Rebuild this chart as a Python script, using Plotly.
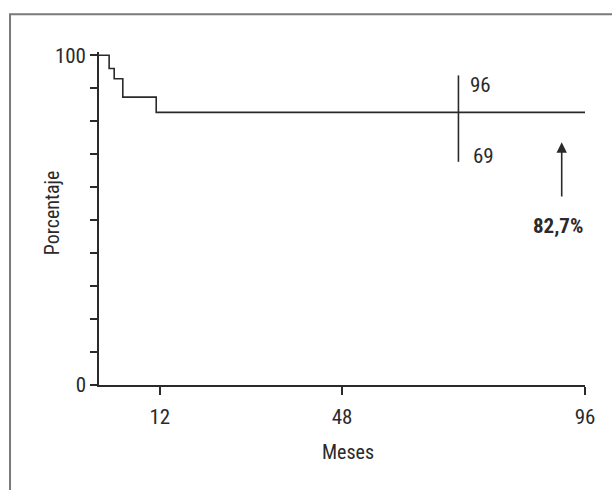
import plotly.graph_objects as go

# Data
months = [0, 2.0, 3.0, 4.7, 11.3, 96]
survival = [100, 96.0, 92.9, 87.3, 82.7, 82.7]
mark_month = 71
mark_range = [67.7, 93.9]
risk_top = "96"
risk_bottom = "69"
final_label = "82,7%"
x_ticks = [12, 48, 96]
y_ticks = list(range(0, 101, 10))
y_ticktext = ["0"] + [""] * 9 + ["100"]

FONT = "Liberation Sans Narrow, Arial Narrow, Roboto Condensed, Liberation Sans, sans-serif"
INK = "#2a2a2a"

fig = go.Figure()
fig.add_trace(go.Scatter(x=months, y=survival, mode="lines", line_shape="hv",
                         line=dict(color=INK, width=1.6), hoverinfo="skip"))
fig.add_trace(go.Scatter(x=[mark_month, mark_month], y=mark_range, mode="lines",
                         line=dict(color=INK, width=1.6), hoverinfo="skip"))

fig.add_annotation(x=mark_month + 1.9, y=90.9, text=risk_top, showarrow=False,
                   xanchor="left", yanchor="middle", font=dict(size=21, color=INK, family=FONT))
fig.add_annotation(x=mark_month + 2.5, y=69.4, text=risk_bottom, showarrow=False,
                   xanchor="left", yanchor="middle", font=dict(size=21, color=INK, family=FONT))
# arrow
fig.add_annotation(x=91.4, y=73.6, ax=91.4, ay=56.7, axref="x", ayref="y", xref="x", yref="y",
                   text="", showarrow=True, arrowhead=2, arrowsize=1.3, arrowwidth=1.6,
                   arrowcolor=INK)
fig.add_annotation(x=90.7, y=48.3, text="<b>" + final_label + "</b>", showarrow=False,
                   xanchor="center", yanchor="middle", font=dict(size=21, color=INK, family=FONT))

# axis titles
fig.add_annotation(x=-0.0967, y=0.516, xref="paper", yref="paper", text="Porcentaje",
                   textangle=-90, showarrow=False, xanchor="center", yanchor="middle",
                   font=dict(size=20, color=INK, family=FONT))
fig.add_annotation(x=0.512, y=-0.201, xref="paper", yref="paper", text="Meses",
                   showarrow=False, xanchor="center", yanchor="middle",
                   font=dict(size=20, color=INK, family=FONT))

# outer frame
fig.add_shape(type="rect", xref="paper", yref="paper", x0=-0.1831, x1=1.07, y0=-0.35, y1=1.113,
              line=dict(color="#7a7a7a", width=2), layer="below")

fig.update_xaxes(range=[0, 96], showline=True, linecolor=INK, linewidth=1.6, ticks="outside",
                 ticklen=8, tickwidth=1.6, tickcolor=INK, tickvals=x_ticks, showgrid=False,
                 zeroline=False, ticklabelstandoff=4,
                 tickfont=dict(size=21, color=INK, family=FONT))
fig.update_yaxes(range=[0, 101], showline=True, linecolor=INK, linewidth=1.6, ticks="outside",
                 ticklen=7, tickwidth=1.6, tickcolor=INK, tickvals=y_ticks, ticktext=y_ticktext,
                 showgrid=False, zeroline=False,
                 tickfont=dict(size=21, color=INK, family=FONT))

fig.update_layout(width=612, height=490, margin=dict(l=99, r=27, t=52, b=105),
                  paper_bgcolor="white", plot_bgcolor="white", showlegend=False)

fig.write_html("out.html", config={"displayModeBar": False},
               post_script="document.body.style.margin='0';")
